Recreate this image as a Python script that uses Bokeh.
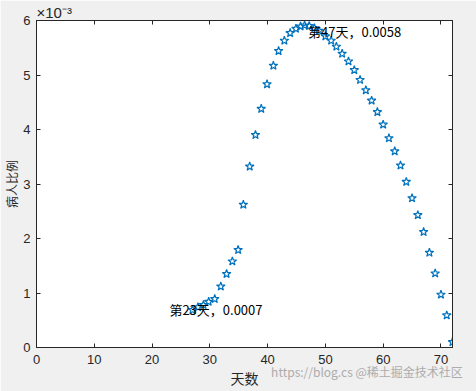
from bokeh.plotting import figure
from bokeh.models import LinearAxis, FixedTicker, CustomJSTickFormatter, Range1d, ColumnDataSource, Title
from bokeh.core.properties import value
from bokeh.embed import file_html
from bokeh.resources import INLINE

# ---- data ----
days = [27.0, 27.95, 28.9, 29.8, 30.85, 31.9, 32.9, 33.9, 34.9, 35.8,
        36.9, 37.9, 38.9, 39.9, 41.0, 41.9, 42.9, 43.9, 44.9, 45.7,
        46.4, 47.2, 48.1, 48.9, 50.0, 51.0, 51.9, 52.9, 54.0, 55.0,
        56.0, 57.0, 58.0, 59.0, 60.0, 61.0, 62.0, 63.0, 64.0, 65.0,
        66.0, 67.0, 68.0, 69.0, 70.0, 71.0, 72.0]
ratio = [0.00069, 0.00074, 0.00078, 0.00084, 0.00089, 0.00112, 0.00135, 0.00158, 0.00179, 0.00262,
         0.00332, 0.00390, 0.00438, 0.00483, 0.00517, 0.00544, 0.00563, 0.00577, 0.00585, 0.00589,
         0.00591, 0.00590, 0.00586, 0.00581, 0.00571, 0.00563, 0.00552, 0.00539, 0.00525, 0.00509,
         0.00491, 0.00472, 0.00453, 0.00432, 0.00409, 0.00384, 0.00360, 0.00334, 0.00304, 0.00274,
         0.00243, 0.00212, 0.00174, 0.00136, 0.00097, 0.00059, 0.00010]

note_days = [23, 47]
note_vals = [0.0007, 0.0058]
note_texts = ["第23天，0.0007", "第47天，0.0058"]

x_ticks = [0, 10, 20, 30, 40, 50, 60, 70]
y_ticks = [0, 0.001, 0.002, 0.003, 0.004, 0.005, 0.006]

x_label = "天数"
y_label = "病人比例"
exponent_text = "×10⁻³"
watermark = "https://blog.cs  @稀土掘金技术社区"

# ---- figure ----
BG = "#f0f0f0"
AX = "#262626"
p = figure(width=476, height=391, output_backend="svg", toolbar_location=None,
           x_range=Range1d(0, 72), y_range=Range1d(0, 0.006),
           min_border_left=36, min_border_right=24, min_border_top=20, min_border_bottom=44)
p.background_fill_color = "white"
p.border_fill_color = BG
p.outline_line_color = AX
p.outline_line_width = 1
p.xgrid.visible = False
p.ygrid.visible = False

fmt = CustomJSTickFormatter(code="return String(Math.round(tick*1000));")
blank = CustomJSTickFormatter(code="return '';")

def style(ax):
    ax.axis_line_color = AX
    ax.major_tick_line_color = AX
    ax.major_tick_in = 4
    ax.major_tick_out = 0
    ax.minor_tick_line_color = None
    ax.major_label_text_color = AX
    ax.major_label_text_font = "Liberation Sans"
    ax.major_label_text_font_size = "13px"
    ax.axis_label_text_font_style = "normal"
    ax.axis_label_text_color = AX

xa = p.xaxis[0]
xa.ticker = FixedTicker(ticks=x_ticks)
style(xa)
xa.major_label_standoff = 7
xa.axis_label = x_label
xa.axis_label_text_font = "Noto Sans CJK SC"
xa.axis_label_text_font_size = "14px"
xa.axis_label_standoff = 1

ya = p.yaxis[0]
ya.ticker = FixedTicker(ticks=y_ticks)
ya.formatter = fmt
style(ya)
ya.major_label_standoff = 6
ya.axis_label = y_label
ya.axis_label_text_font = "Noto Sans CJK SC"
ya.axis_label_text_font_size = "12px"
ya.axis_label_standoff = 0

top = LinearAxis(ticker=FixedTicker(ticks=x_ticks), formatter=blank)
style(top)
top.major_label_standoff = 0
p.add_layout(top, "above")
right = LinearAxis(ticker=FixedTicker(ticks=y_ticks), formatter=blank)
style(right)
right.major_label_standoff = 0
p.add_layout(right, "right")

p.add_layout(Title(text=exponent_text, align="left", offset=0, standoff=0,
                   text_font="Liberation Sans", text_font_size="15px",
                   text_font_style="normal", text_color=AX), "above")

p.add_layout(Title(text=watermark, align="right", offset=-13, standoff=-56,
                   vertical_align="top",
                   text_font="Noto Sans CJK SC", text_font_size="12px",
                   text_font_style="normal", text_color="#acacac"), "below")

src = ColumnDataSource(dict(x=days, y=ratio))
p.scatter("x", "y", source=src, marker="star", size=9, fill_color=None,
          line_color="#0072BD", line_width=1.2)

nsrc = ColumnDataSource(dict(x=note_days, y=note_vals, t=note_texts))
p.text("x", "y", text="t", source=nsrc, text_font=value("Noto Sans CJK SC"),
       text_font_size="13px", text_color="black", text_baseline="middle", text_align="left")

open("out.html", "w").write(file_html(p, INLINE))
